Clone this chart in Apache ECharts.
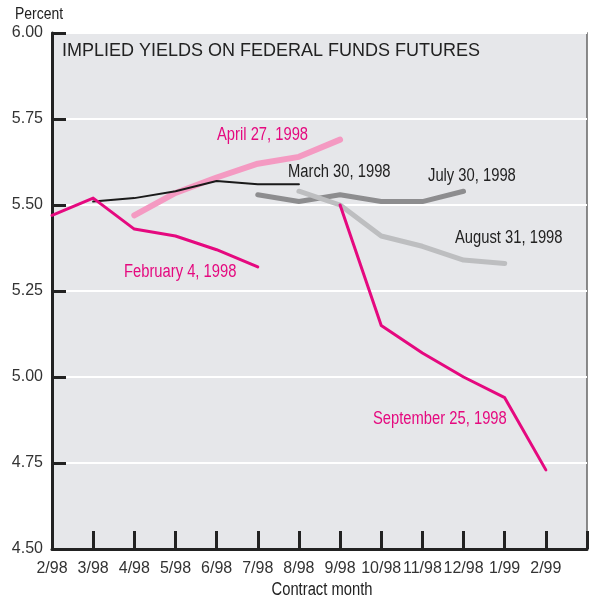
<!DOCTYPE html>
<html lang="en">
<head>
  <meta charset="UTF-8">
  <title>Implied yields on federal funds futures</title>
  <script src="https://cdn.jsdelivr.net/npm/echarts@6/dist/echarts.min.js"></script>
  <style>
    * { padding: 0; margin: 0; }
    body { background: #fff; }
    #box { width: 590px; height: 602px; }
  </style>
</head>
<body>
  <div id="box"></div>
  <script>
    // contract months on the x axis (index 0 = 2/98)
    var months = ['2/98', '3/98', '4/98', '5/98', '6/98', '7/98', '8/98', '9/98', '10/98', '11/98', '12/98', '1/99', '2/99']

    // implied yields, each curve starts at a given contract month
    var feb4 = [5.47, 5.52, 5.43, 5.41, 5.37, 5.32]      // from 2/98
    var mar30 = [5.51, 5.52, 5.54, 5.57, 5.56, 5.56]     // from 3/98
    var apr27 = [5.47, 5.535, 5.58, 5.62, 5.64, 5.69]    // from 4/98
    var jul30 = [5.53, 5.51, 5.53, 5.51, 5.51, 5.54]     // from 7/98
    var aug31 = [5.54, 5.50, 5.41, 5.38, 5.34, 5.33]     // from 8/98
    var sep25 = [5.50, 5.15, 5.07, 5.00, 4.94, 4.73]     // from 9/98

    var yTicks = [4.50, 4.75, 5.00, 5.25, 5.50, 5.75, 6.00]

    var sans = "'Liberation Sans', Arial, sans-serif"
    var magenta = '#e5097f'

    function toPairs(vals, startMonth) {
      var s = months.indexOf(startMonth)
      return vals.map(function (v, i) { return [s + i, v] })
    }

    function line(name, vals, start, color, width) {
      return {
        name: name,
        type: 'line',
        data: toPairs(vals, start),
        symbol: 'none',
        silent: true,
        lineStyle: { color: color, width: width, cap: 'round', join: 'round' }
      }
    }

    // narrow text: squeeze a normal sans horizontally
    function note(text, x, y, color, size, align) {
      return {
        type: 'text', x: x, y: y, scaleX: 0.82, silent: true,
        style: { text: text, font: size + 'px ' + sans, fill: color, align: align || 'left', verticalAlign: 'middle' }
      }
    }

    var mCharts = echarts.init(document.getElementById('box'))

    var option = {
      animation: false,
      grid: {
        left: 52, top: 33, width: 537, height: 516,
        show: true,
        backgroundColor: '#e6e7ea',
        borderColor: '#666',
        borderWidth: 1.5
      },
      xAxis: {
        type: 'value',
        min: 0,
        max: months.length,
        interval: 1,
        axisLine: { onZero: false, lineStyle: { color: '#222', width: 3 } },
        axisTick: { inside: true, length: 18, lineStyle: { color: '#222', width: 3 } },
        axisLabel: {
          margin: 12,
          fontFamily: sans,
          fontSize: 16,
          color: '#333',
          formatter: function (v) { return months[v] || '' }
        },
        splitLine: { show: false }
      },
      yAxis: {
        type: 'value',
        min: yTicks[0],
        max: yTicks[yTicks.length - 1],
        interval: 0.25,
        axisLine: { show: true, onZero: false, lineStyle: { color: '#222', width: 3 } },
        axisTick: { show: true, inside: true, length: 14, lineStyle: { color: '#222', width: 3 } },
        axisLabel: {
          margin: 9,
          fontFamily: sans,
          fontSize: 16,
          color: '#333',
          formatter: function (v) { return v.toFixed(2) }
        },
        splitLine: { show: true, lineStyle: { color: '#ffffff', width: 2 } }
      },
      graphic: [
        note('Percent', 15, 14, '#222', 17),
        note('Contract month', 322, 590, '#222', 18, 'center'),
        { type: 'text', x: 62, y: 51, silent: true, style: { text: 'IMPLIED YIELDS ON FEDERAL FUNDS FUTURES', font: '18px ' + sans, fill: '#222', verticalAlign: 'middle' } },
        note('April 27, 1998', 217, 135, magenta, 18),
        note('March 30, 1998', 288, 172, '#222', 18),
        note('July 30, 1998', 428, 176, '#222', 18),
        note('August 31, 1998', 455, 238, '#222', 18),
        note('February 4, 1998', 124, 272, magenta, 18),
        note('September 25, 1998', 373, 419, magenta, 18)
      ],
      series: [
        line('April 27, 1998', apr27, '4/98', '#f49ac2', 6),
        line('March 30, 1998', mar30, '3/98', '#1a1a1a', 2),
        line('July 30, 1998', jul30, '7/98', '#8d8d8f', 5),
        line('August 31, 1998', aug31, '8/98', '#bdbec0', 5),
        line('February 4, 1998', feb4, '2/98', magenta, 3),
        line('September 25, 1998', sep25, '9/98', magenta, 3)
      ]
    }
    mCharts.setOption(option)
  </script>
</body>
</html>
